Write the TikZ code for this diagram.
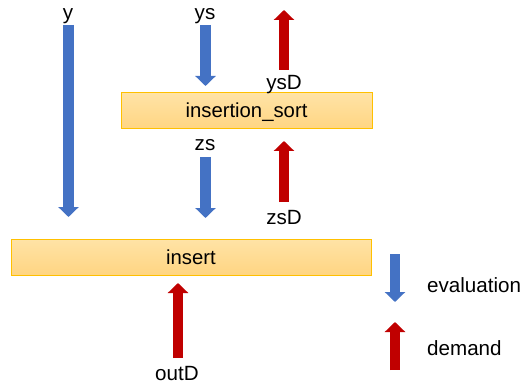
\documentclass[tikz,border=0pt]{standalone}
\usepackage{fontspec}
\setmainfont{Liberation Sans}
\usetikzlibrary{arrows.meta}
\definecolor{evblue}{HTML}{4472C4}
\definecolor{dmred}{HTML}{C00000}
\definecolor{boxline}{HTML}{FFC000}
\definecolor{boxtop}{HTML}{FFE3A6}
\definecolor{boxbot}{HTML}{FFD582}
\begin{document}
\begin{tikzpicture}[x=1pt,y=-1pt,
  lbl/.style={font=\fontsize{20.6}{24}\selectfont, inner sep=0pt, anchor=base},
  func/.style={draw=boxline, line width=1pt, top color=boxtop, bottom color=boxbot,
    font=\fontsize{20.3}{24}\selectfont, inner sep=0pt, minimum height=36pt,
    text height=14pt, text depth=0pt},
  evarrow/.style={draw=evblue, line width=10.5pt, -{Triangle[width=20pt,length=10pt]}},
  dmarrow/.style={draw=dmred, line width=10.5pt, -{Triangle[width=20pt,length=10pt]}}]
\useasboundingbox (0,0) rectangle (525,385);

% boxes
\node[func, minimum width=251pt] (isort) at (246.5,111) {insertion\_sort};
\node[func, minimum width=360pt] (insert) at (191,257) {insert};

% labels
\node[lbl] (ly) at (68,19.5) {y};
\node[lbl] (lys) at (205,20) {ys};
\node[lbl] (lysD) at (284,89.5) {ysD};
\node[lbl] (lzs) at (205,151) {zs};
\node[lbl] (lzsD) at (284,224) {zsD};
\node[lbl] (loutD) at (177,380) {outD};
\node[lbl, anchor=base west] (leval) at (427,292) {evaluation};
\node[lbl, anchor=base west] (ldem) at (427,355) {demand};

% arrow end points
\coordinate (y0) at (68.5,25);   \coordinate (y1) at (68.5,217);
\coordinate (ys0) at (205.5,25); \coordinate (ys1) at (205.5,86);
\coordinate (ysD0) at (284,70);  \coordinate (ysD1) at (284,10);
\coordinate (zs0) at (205.5,157);\coordinate (zs1) at (205.5,218);
\coordinate (zsD0) at (284,202); \coordinate (zsD1) at (284,141);
\coordinate (oD0) at (178,358);  \coordinate (oD1) at (178,283);
\coordinate (ev0) at (395,254);  \coordinate (ev1) at (395,302);
\coordinate (dm0) at (395,370);  \coordinate (dm1) at (395,322);

\draw[evarrow] (y0) -- (y1);
\draw[evarrow] (ys0) -- (ys1);
\draw[dmarrow] (ysD0) -- (ysD1);
\draw[evarrow] (zs0) -- (zs1);
\draw[dmarrow] (zsD0) -- (zsD1);
\draw[dmarrow] (oD0) -- (oD1);
\draw[evarrow] (ev0) -- (ev1);
\draw[dmarrow] (dm0) -- (dm1);
\end{tikzpicture}
\end{document}
